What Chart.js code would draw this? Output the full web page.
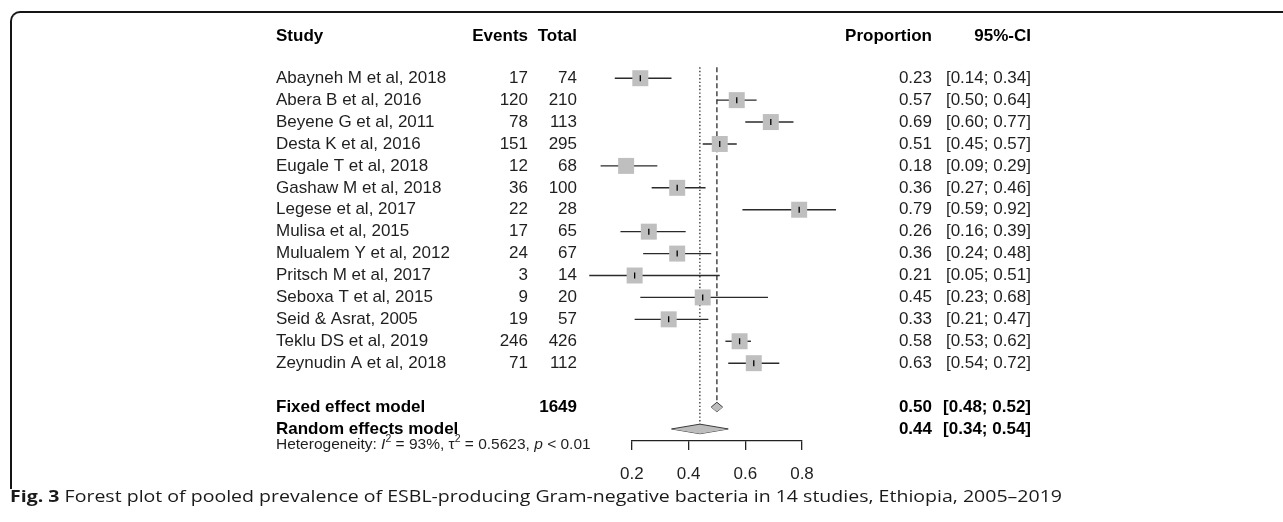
<!DOCTYPE html>
<html><head><meta charset="utf-8">
<script src="https://cdn.jsdelivr.net/npm/chart.js@4.4.1/dist/chart.umd.min.js"></script>
<style>
html,body{margin:0;padding:0;background:#fff;width:1283px;height:522px;overflow:hidden;}
#wrap{position:relative;width:1283px;height:522px;}
#frame{position:absolute;left:10px;top:11px;width:1300px;height:476px;border-top:2px solid #151515;border-left:2px solid #151515;border-top-left-radius:10px;}
canvas{position:absolute;left:0;top:0;}
</style></head><body>
<div id="wrap"><div id="frame"></div><canvas id="c" width="1283" height="522"></canvas></div>
<script>
// ---------- data ----------
const studies = ["Abayneh M et al, 2018","Abera B et al, 2016","Beyene G et al, 2011","Desta K et al, 2016","Eugale T et al, 2018","Gashaw M et al, 2018","Legese et al, 2017","Mulisa et al, 2015","Mulualem Y et al, 2012","Pritsch M et al, 2017","Seboxa T et al, 2015","Seid & Asrat, 2005","Teklu DS et al, 2019","Zeynudin A et al, 2018"];
const events = [17,120,78,151,12,36,22,17,24,3,9,19,246,71];
const totals = [74,210,113,295,68,100,28,65,67,14,20,57,426,112];
const proportions = [0.23,0.57,0.69,0.51,0.18,0.36,0.79,0.26,0.36,0.21,0.45,0.33,0.58,0.63];
const lowerCI = [0.14,0.50,0.60,0.45,0.09,0.27,0.59,0.16,0.24,0.05,0.23,0.21,0.53,0.54];
const upperCI = [0.34,0.64,0.77,0.57,0.29,0.46,0.92,0.39,0.48,0.51,0.68,0.47,0.62,0.72];
const modelNames = ["Fixed effect model","Random effects model"];
const modelTotal = "1649";
const modelEst = [0.50,0.44];
const modelLower = [0.48,0.34];
const modelUpper = [0.52,0.54];
const tickValues = [0.2,0.4,0.6,0.8];
const tickLabels = ["0.2","0.4","0.6","0.8"];
const headers = ["Study","Events","Total","Proportion","95%-CI"];
const hetI2 = "93%", hetTau2 = "0.5623", hetP = "< 0.01";
const captionBold = "Fig. 3";
const captionText = " Forest plot of pooled prevalence of ESBL-producing Gram-negative bacteria in 14 studies, Ethiopia, 2005\u20132019";

// ---------- layout / style ----------
const FAM = '"Liberation Sans", Arial, sans-serif';
const TXT = '#1f1f1f';
const ROW_PX = 21.92;
const ROW_MIN = -3.5, ROW_MAX = 16.55;
const modelRows = [15,16];
const DIAMOND_HALF_PX = 4.8;
const LINE_COL = '#2a2a2a';
const fmt2 = v => v.toFixed(2);
const ciText = (a,b) => `[${fmt2(a)}; ${fmt2(b)}]`;

const datasets = [];
// reference lines
datasets.push({type:'line', data:[{x:modelEst[0],y:-0.5},{x:modelEst[0],y:modelRows[0]}], borderColor:LINE_COL, borderWidth:1.3, borderDash:[5,3], pointRadius:0, fill:false, clip:false, order:20});
datasets.push({type:'line', data:[{x:modelEst[1],y:-0.5},{x:modelEst[1],y:modelRows[1]}], borderColor:LINE_COL, borderWidth:1.3, borderDash:[1.4,2.2], pointRadius:0, fill:false, clip:false, order:21});
// CI lines
studies.forEach((s,i)=>{
  datasets.push({type:'line', data:[{x:lowerCI[i],y:i},{x:upperCI[i],y:i}], borderColor:LINE_COL, borderWidth:1.4, pointRadius:0, fill:false, clip:false, order:10});
});
// squares
datasets.push({type:'scatter', data:proportions.map((p,i)=>({x:p,y:i})), pointStyle:'rect', pointRadius:11.3, pointHoverRadius:11.3, backgroundColor:'#bfbfbf', borderWidth:0, clip:false, order:5});
// center ticks
datasets.push({type:'scatter', data:proportions.map((p,i)=>({x:p,y:i})), pointStyle:'line', rotation:90, pointRadius:3, borderColor:'#000', borderWidth:1.3, clip:false, order:1});
// diamonds
const dh = DIAMOND_HALF_PX/ROW_PX;
modelEst.forEach((e,k)=>{
  const r = modelRows[k];
  datasets.push({type:'line', data:[{x:modelLower[k],y:r},{x:e,y:r-dh},{x:modelUpper[k],y:r}], borderColor:'#3a3a3a', borderWidth:1, pointRadius:0, tension:0, fill:'+1', backgroundColor:'#bdbdbd', clip:false, order:2});
  datasets.push({type:'line', data:[{x:modelLower[k],y:r},{x:e,y:r+dh},{x:modelUpper[k],y:r}], borderColor:'#3a3a3a', borderWidth:1, pointRadius:0, tension:0, fill:false, clip:false, order:3});
});

function drawHet(ctx, x, yy){
  const size = 15.5, sup = 10.5;
  const parts = [
    ["Heterogeneity: ", "", size, 0],
    ["I", "italic ", size, 0],
    ["2", "", sup, -6],
    [" = " + hetI2 + ", ", "", size, 0],
    ["\u03c4", "", size, 0],
    ["2", "", sup, -6],
    [" = " + hetTau2 + ", ", "", size, 0],
    ["p", "italic ", size, 0],
    [" " + hetP, "", size, 0]
  ];
  ctx.textAlign = 'left';
  let cx = x;
  parts.forEach(([t, st, sz, dy])=>{
    ctx.font = `${st}${sz}px ${FAM}`;
    ctx.fillText(t, cx, yy + dy);
    cx += ctx.measureText(t).width;
  });
}

const textPlugin = {
  id:'forestText',
  afterDraw(chart){
    const ctx = chart.ctx, ys = chart.scales.y;
    ctx.save();
    ctx.fillStyle = TXT;
    ctx.textBaseline = 'middle';
    const put = (t, x, row, align, bold, size) => {
      ctx.font = `${bold ? 'bold ' : ''}${size || 17}px ${FAM}`;
      ctx.textAlign = align;
      ctx.fillText(t, x, ys.getPixelForValue(row));
    };
    const cStudy = 276, cEvents = 528, cTotal = 577, cProp = 932, cCI = 1031;
    const hr = -1.9;
    ctx.fillStyle = '#000';
    put(headers[0], cStudy, hr, 'left', true);
    put(headers[1], cEvents, hr, 'right', true);
    put(headers[2], cTotal, hr, 'right', true);
    put(headers[3], cProp, hr, 'right', true);
    put(headers[4], cCI, hr, 'right', true);
    ctx.fillStyle = TXT;
    studies.forEach((s,i)=>{
      put(s, cStudy, i, 'left', false);
      put(String(events[i]), cEvents, i, 'right', false);
      put(String(totals[i]), cTotal, i, 'right', false);
      put(fmt2(proportions[i]), cProp, i, 'right', false);
      put(ciText(lowerCI[i], upperCI[i]), cCI, i, 'right', false);
    });
    ctx.fillStyle = '#000';
    modelNames.forEach((m,k)=>{
      const r = modelRows[k];
      put(m, cStudy, r, 'left', true);
      if (k === 0) put(modelTotal, cTotal, r, 'right', true);
      put(fmt2(modelEst[k]), cProp, r, 'right', true);
      put(ciText(modelLower[k], modelUpper[k]), cCI, r, 'right', true);
    });
    ctx.fillStyle = TXT;
    drawHet(ctx, cStudy, ys.getPixelForValue(16.72));
    // caption
    const capY = 498, capX = 10, capW = 1052;
    ctx.textAlign = 'left';
    const bf = `bold 15.5px "Open Sans", "Noto Sans", sans-serif`;
    const rf = `15.5px "Open Sans", "Noto Sans", sans-serif`;
    ctx.font = bf; const wb = ctx.measureText(captionBold).width;
    ctx.font = rf; const wr = ctx.measureText(captionText).width;
    const sx = capW / (wb + wr);
    ctx.translate(capX, capY);
    ctx.scale(sx, 1);
    ctx.fillStyle = '#1a1a1a';
    ctx.font = bf; ctx.fillText(captionBold, 0, 0);
    ctx.font = rf; ctx.fillText(captionText, wb, 0);
    ctx.restore();
  }
};

new Chart(document.getElementById('c'), {
  type:'scatter',
  data:{datasets},
  options:{
    responsive:false, animation:false, devicePixelRatio:1,
    events:[],
    layout:{autoPadding:false, padding:{left:631.8, right:481, top:1.5, bottom:23.6}},
    plugins:{legend:{display:false}, tooltip:{enabled:false}, filler:{propagate:false}},
    scales:{
      x:{type:'linear', min:0.2, max:0.8, position:'bottom',
         border:{display:true, color:'#222', width:1.3},
         grid:{display:true, drawOnChartArea:false, drawTicks:true, tickLength:9, color:'#222', lineWidth:1.3},
         afterBuildTicks: ax => { ax.ticks = tickValues.map(v=>({value:v})); },
         ticks:{font:{family:FAM, size:17}, color:TXT, padding:14, maxRotation:0, autoSkip:false,
                callback:(v,i)=>tickLabels[i]}
      },
      y:{type:'linear', display:false, reverse:true, min:ROW_MIN, max:ROW_MAX}
    }
  },
  plugins:[textPlugin]
});
</script>
</body></html>
